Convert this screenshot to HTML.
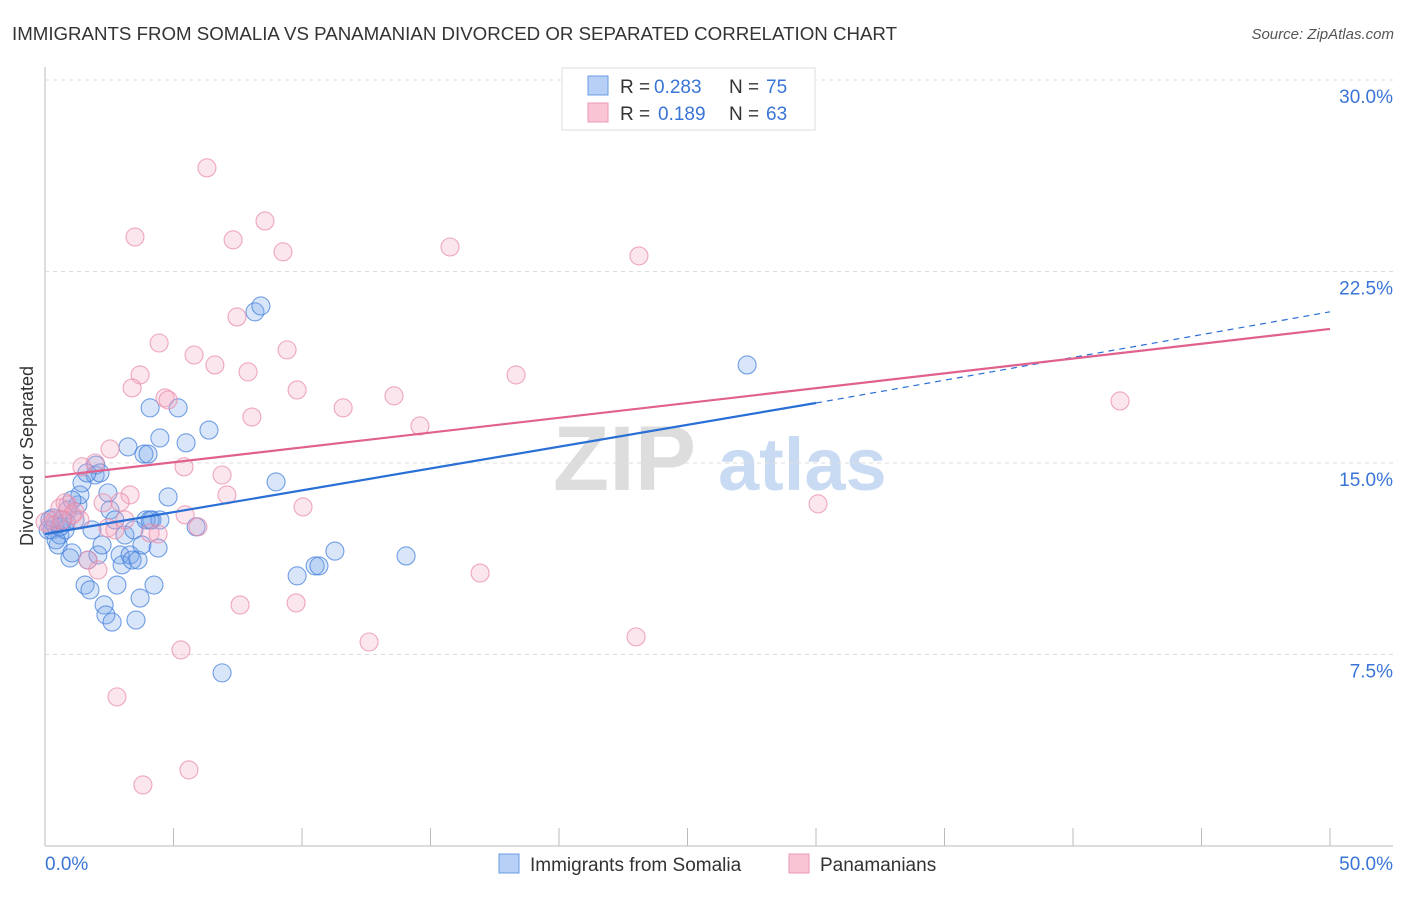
<!DOCTYPE html>
<html><head><meta charset="utf-8"><style>
body{margin:0;background:#fff;font-family:"Liberation Sans",sans-serif;}
svg text{font-family:"Liberation Sans",sans-serif;}
</style></head><body>
<svg id="chart" width="1406" height="892">
<text x="12" y="40" font-size="18.7" fill="#333">IMMIGRANTS FROM SOMALIA VS PANAMANIAN DIVORCED OR SEPARATED CORRELATION CHART</text>
<text x="1394" y="39" font-size="15" fill="#555" font-style="italic" text-anchor="end">Source: ZipAtlas.com</text>
<text x="33" y="456" font-size="18" fill="#333" text-anchor="middle" transform="rotate(-90 33 456)">Divorced or Separated</text>
<g><text x="553" y="490" font-size="92" fill="#ddd" font-family="Liberation Serif" font-weight="bold">ZIP</text><text x="718" y="490" font-size="74" fill="#c9daf3" font-weight="bold">atlas</text></g>
<g id="grid"></g><g id="marks"></g><g id="lines"></g>
<g>
<rect x="562" y="68" width="253" height="62" fill="#fff" stroke="#ddd"/>
<rect x="588" y="76" width="20" height="19" fill="#b8d0f5" stroke="#6a9be6"/>
<rect x="588" y="103" width="20" height="19" fill="#f9c5d5" stroke="#ec9ab5"/>
<text x="620" y="93" font-size="19" fill="#333">R =</text><text x="654" y="93" font-size="19" fill="#3a75d6">0.283</text>
<text x="729" y="93" font-size="19" fill="#333">N =</text><text x="766" y="93" font-size="19" fill="#3a75d6">75</text>
<text x="620" y="120" font-size="19" fill="#333">R =</text><text x="658" y="120" font-size="19" fill="#3a75d6">0.189</text>
<text x="729" y="120" font-size="19" fill="#333">N =</text><text x="766" y="120" font-size="19" fill="#3a75d6">63</text>
</g>
<g>
<rect x="499" y="854" width="20" height="19" fill="#b8d0f5" stroke="#6a9be6"/>
<text x="530" y="871" font-size="19" fill="#333">Immigrants from Somalia</text>
<rect x="789" y="854" width="20" height="19" fill="#f9c5d5" stroke="#ec9ab5"/>
<text x="820" y="871" font-size="19" fill="#333">Panamanians</text>
</g>
</svg>
<script>
const xTicks=[0,5,10,15,20,25,30,35,40,45,50];
const yTicks=[7.5,15,22.5,30];
const yTickLabels=["7.5%","15.0%","22.5%","30.0%"];
const blueX=[0.19,0.27,0.39,0.51,0.58,0.70,0.78,0.89,0.97,1.05,1.17,1.28,1.36,1.44,1.56,1.67,1.75,1.83,1.95,1.98,2.06,2.14,2.22,2.30,2.37,2.45,2.53,2.61,2.72,2.80,2.92,3.00,3.11,3.23,3.31,3.39,3.46,3.54,3.62,3.70,3.77,3.85,3.93,4.01,4.09,4.16,4.24,4.40,4.47,4.79,5.18,5.49,5.88,6.38,6.89,8.17,8.40,8.99,9.81,10.51,10.66,11.28,14.05,27.32,0.12,0.31,0.58,0.82,1.05,0.43,1.63,4.47,4.09];
const blueY=[12.77,12.38,12.57,11.79,12.18,12.77,12.38,13.16,11.28,11.48,12.77,13.36,13.75,14.22,10.22,11.20,10.03,12.38,14.53,14.92,11.40,14.61,11.79,9.44,9.05,13.83,13.16,8.77,12.77,10.22,11.40,11.01,12.18,15.63,11.40,11.20,12.38,8.85,11.20,9.71,11.79,15.35,12.77,15.35,17.16,12.77,10.22,11.67,15.98,13.67,17.16,15.79,12.50,16.29,6.78,20.92,21.15,14.26,10.58,10.97,10.97,11.55,11.36,18.84,12.38,12.85,12.50,12.69,13.55,11.99,14.61,12.77,12.77];
const pinkX=[6.30,8.56,3.50,7.32,15.76,23.11,9.26,7.47,4.44,5.80,9.42,6.61,7.90,18.33,3.70,3.39,9.81,4.67,4.79,13.58,11.60,8.05,14.59,2.53,1.95,1.44,5.41,6.89,7.08,3.31,2.26,2.92,0.89,0.58,1.17,1.36,10.04,30.08,5.45,5.95,2.45,2.72,4.09,4.40,0.39,0.19,1.67,2.06,16.93,7.59,9.77,23.00,12.61,5.29,2.80,5.60,3.81,41.83,0.78,1.05,0.0,3.11,0.66];
const pinkY=[26.56,24.48,23.85,23.74,23.46,23.11,23.27,20.72,19.70,19.23,19.43,18.84,18.57,18.45,18.45,17.94,17.86,17.55,17.47,17.63,17.16,16.80,16.45,15.55,15.00,14.85,14.85,14.53,13.75,13.75,13.44,13.47,13.36,13.24,13.08,12.77,13.28,13.40,12.97,12.50,12.46,12.38,12.26,12.22,12.77,12.57,11.20,10.81,10.69,9.44,9.52,8.19,7.99,7.68,5.84,2.98,2.39,17.43,13.44,12.97,12.69,12.77,12.77];
const blueTrend=[[0,12.22],[30,17.35],[50,20.92]];
const pinkTrend=[[0,14.45],[50,20.25]];
const NS="http://www.w3.org/2000/svg";
const sx=v=>45+v/50*1285, sy=v=>846-v/30*766;
function mk(t,a,p){const e=document.createElementNS(NS,t);for(const k in a)e.setAttribute(k,a[k]);p.appendChild(e);return e;}
const grid=document.getElementById('grid');
let e=mk('line',{x1:45,y1:67,x2:45,y2:846,stroke:'#bbb'},grid);


e=mk('line',{x1:45,y1:846,x2:1393,y2:846,stroke:'#bbb'},grid);


yTicks.forEach((v,i)=>{
 const g=mk('line',{x1:45,y1:sy(v),x2:1393,y2:sy(v),stroke:'#ddd','stroke-dasharray':'4,4'},grid);
 
 
 const t=mk('text',{x:1393,y:sy(v)+23,'font-size':19,fill:'#3a75d6','text-anchor':'end'},grid);
 t.textContent=yTickLabels[i];
 
 
});
xTicks.forEach(v=>{
 const t=mk('line',{x1:sx(v),y1:828,x2:sx(v),y2:846,stroke:'#bbb'},grid);
 
 
});
let t=mk('text',{x:45,y:870,'font-size':19,fill:'#3a75d6'},grid);t.textContent='0.0%';


t=mk('text',{x:1393,y:870,'font-size':19,fill:'#3a75d6','text-anchor':'end'},grid);t.textContent='50.0%';


const marks=document.getElementById('marks');
blueX.forEach((x,i)=>{
 const c=mk('circle',{cx:sx(x),cy:sy(blueY[i]),r:9,fill:'rgba(120,165,235,0.28)',stroke:'rgba(70,130,220,0.75)','stroke-width':1.1},marks);
 
 
});
pinkX.forEach((x,i)=>{
 const c=mk('circle',{cx:sx(x),cy:sy(pinkY[i]),r:9,fill:'rgba(245,165,195,0.28)',stroke:'rgba(232,140,170,0.75)','stroke-width':1.1},marks);
 
 
});
const lines=document.getElementById('lines');
let l=mk('line',{x1:sx(blueTrend[0][0]),y1:sy(blueTrend[0][1]),x2:sx(blueTrend[1][0]),y2:sy(blueTrend[1][1]),stroke:'#2a6fd6','stroke-width':2.2},lines);


l=mk('line',{x1:sx(blueTrend[1][0]),y1:sy(blueTrend[1][1]),x2:sx(blueTrend[2][0]),y2:sy(blueTrend[2][1]),stroke:'#2a6fd6','stroke-width':1.2,'stroke-dasharray':'6,5'},lines);


l=mk('line',{x1:sx(pinkTrend[0][0]),y1:sy(pinkTrend[0][1]),x2:sx(pinkTrend[1][0]),y2:sy(pinkTrend[1][1]),stroke:'#e0608e','stroke-width':2.2},lines);


</script>
</body></html>
